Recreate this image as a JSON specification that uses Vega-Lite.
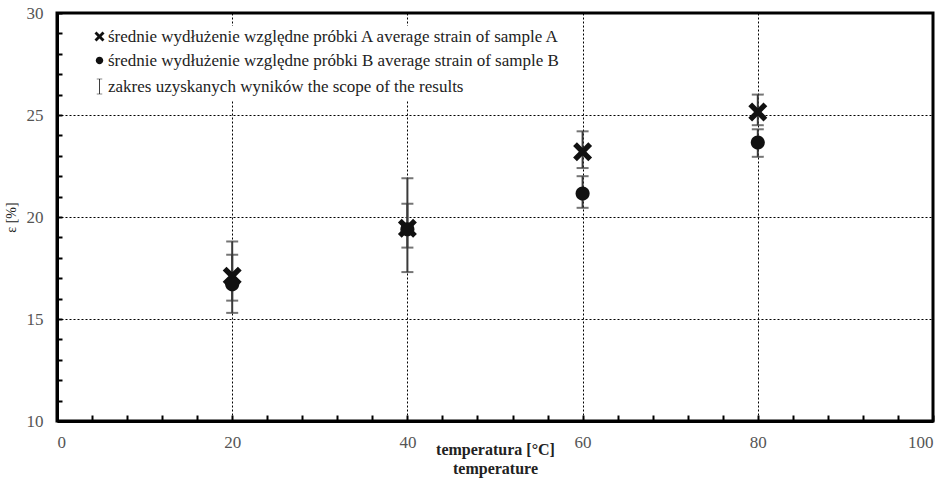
{
  "$schema": "https://vega.github.io/schema/vega-lite/v6.json",
  "width": 876,
  "height": 408,
  "autosize": {"type": "none"},
  "padding": {"left": 57, "top": 13, "right": 15, "bottom": 59},
  "background": "white",
  "config": {
    "font": "Liberation Serif",
    "view": {"stroke": "black", "strokeWidth": 3},
    "axis": {
      "domainColor": "black",
      "domainWidth": 3,
      "tickColor": "black",
      "tickWidth": 2,
      "labelFont": "Liberation Serif",
      "labelFontSize": 17,
      "labelColor": "#555",
      "labelOverlap": false,
      "titleFont": "Liberation Serif",
      "titleColor": "#222",
      "gridColor": "black",
      "gridDash": [2, 2],
      "gridWidth": 1
    },
    "legend": {"labelFont": "Liberation Serif"}
  },
  "data": {
    "values": [
      {"temp": 20, "series": "średnie wydłużenie względne próbki A average strain of sample A", "mean": 17.1, "lo": 15.9, "hi": 18.8},
      {"temp": 20, "series": "średnie wydłużenie względne próbki B average strain of sample B", "mean": 16.7, "lo": 15.3, "hi": 18.15},
      {"temp": 40, "series": "średnie wydłużenie względne próbki A average strain of sample A", "mean": 19.45, "lo": 18.5, "hi": 20.65},
      {"temp": 40, "series": "średnie wydłużenie względne próbki B average strain of sample B", "mean": 19.4, "lo": 17.3, "hi": 21.9},
      {"temp": 60, "series": "średnie wydłużenie względne próbki A average strain of sample A", "mean": 23.2, "lo": 22.4, "hi": 24.2},
      {"temp": 60, "series": "średnie wydłużenie względne próbki B average strain of sample B", "mean": 21.15, "lo": 20.45, "hi": 22.0},
      {"temp": 80, "series": "średnie wydłużenie względne próbki A average strain of sample A", "mean": 25.15, "lo": 24.5, "hi": 26.0},
      {"temp": 80, "series": "średnie wydłużenie względne próbki B average strain of sample B", "mean": 23.65, "lo": 22.95, "hi": 24.3}
    ]
  },
  "layer": [
    {
      "mark": {"type": "rule", "color": "#3a3a3a", "strokeWidth": 2},
      "encoding": {
        "x": {
          "field": "temp", "type": "quantitative",
          "scale": {"domain": [0, 100], "nice": false},
          "axis": {
            "values": [0,4,8,12,16,20,24,28,32,36,40,44,48,52,56,60,64,68,72,76,80,84,88,92,96,100],
            "tickCount": 100,
            "format": "d",
            "labelExpr": "datum.value % 20 === 0 ? datum.label : ''",
            "grid": true,
            "gridOpacity": {"condition": {"test": "datum.value % 20 === 0 && datum.value > 0 && datum.value < 100", "value": 1}, "value": 0},
            "tickSize": -6,
            "labelPadding": 19,
            "title": ["temperatura [°C]", "temperature"],
            "titleFontWeight": "bold",
            "titleFontSize": 16,
            "titlePadding": -9,
            "titleLineHeight": 19
          }
        },
        "y": {
          "field": "lo", "type": "quantitative",
          "scale": {"domain": [10, 30], "nice": false, "zero": false},
          "axis": {
            "values": [10,11,12,13,14,15,16,17,18,19,20,21,22,23,24,25,26,27,28,29,30],
            "tickCount": 100,
            "format": "d",
            "labelExpr": "datum.value % 5 === 0 ? datum.label : ''",
            "grid": true,
            "gridOpacity": {"condition": {"test": "datum.value % 5 === 0 && datum.value > 10 && datum.value < 30", "value": 1}, "value": 0},
            "tickSize": -5,
            "labelPadding": 19,
            "title": "ε [%]",
            "titleFontSize": 14,
            "titleFontWeight": "normal",
            "titlePadding": 8
          }
        },
        "y2": {"field": "hi"}
      }
    },
    {
      "mark": {"type": "tick", "orient": "horizontal", "color": "#3a3a3a", "size": 12, "thickness": 2},
      "encoding": {
        "x": {"field": "temp", "type": "quantitative"},
        "y": {"field": "lo", "type": "quantitative"}
      }
    },
    {
      "mark": {"type": "tick", "orient": "horizontal", "color": "#3a3a3a", "size": 12, "thickness": 2},
      "encoding": {
        "x": {"field": "temp", "type": "quantitative"},
        "y": {"field": "hi", "type": "quantitative"}
      }
    },
    {
      "mark": {"type": "point", "filled": true, "color": "#111", "opacity": 1, "size": 360},
      "encoding": {
        "x": {"field": "temp", "type": "quantitative"},
        "y": {"field": "mean", "type": "quantitative"},
        "shape": {
          "field": "series", "type": "nominal",
          "scale": {
            "domain": [
              "średnie wydłużenie względne próbki A average strain of sample A",
              "średnie wydłużenie względne próbki B average strain of sample B",
              "zakres uzyskanych wyników the scope of the results"
            ],
            "range": [
              "M-1,-0.6L-0.6,-1L0,-0.4L0.6,-1L1,-0.6L0.4,0L1,0.6L0.6,1L0,0.4L-0.6,1L-1,0.6L-0.4,0Z",
              "M0.74,0A0.74,0.74 0 1,1 -0.74,0A0.74,0.74 0 1,1 0.74,0Z",
              "M-0.55,-1.55H0.55V-1.43H0.08V1.43H0.55V1.55H-0.55V1.43H-0.08V-1.43H-0.55Z"
            ]
          },
          "legend": {
            "title": null,
            "orient": "none",
            "legendX": 32,
            "legendY": 13,
            "fillColor": "white",
            "padding": 2,
            "labelFont": "Liberation Serif",
            "labelFontSize": 17,
            "labelColor": "#222",
            "labelLimit": 700,
            "labelOffset": 0,
            "rowPadding": 6,
            "symbolOffset": 0,
            "encode": {
              "symbols": {
                "update": {
                  "size": {"signal": "indexOf(datum.value, 'próbki A') >= 0 ? 100 : 196"},
                  "fill": {"value": "#111"},
                  "opacity": {"value": 1}
                }
              }
            }
          }
        }
      }
    }
  ]
}
